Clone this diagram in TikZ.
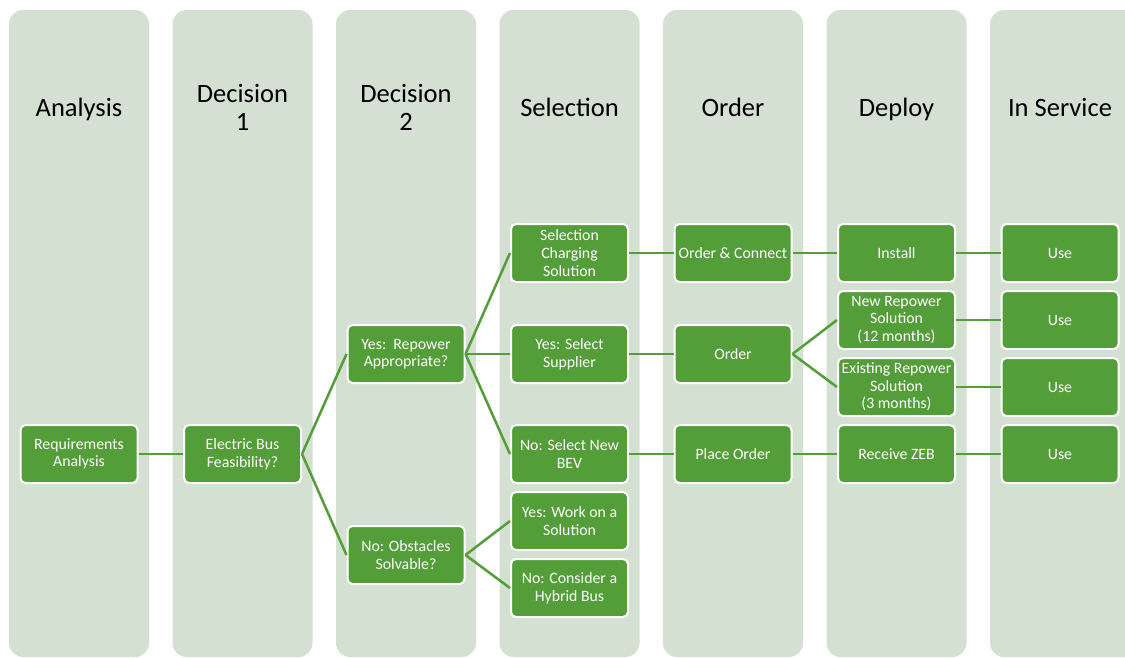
\documentclass[tikz,border=0pt]{standalone}
\usepackage{fontspec}
\setmainfont{Carlito}
\definecolor{colbg}{HTML}{D3E0D2}
\definecolor{boxgreen}{HTML}{549E39}
\begin{document}
\begin{tikzpicture}[x=1pt,y=-1pt,
  col/.style={fill=colbg, rounded corners=14pt},
  head/.style={font=\fontsize{26.5}{28}\selectfont, text=black, align=center, anchor=base, inner sep=0pt},
  box/.style={rectangle, rounded corners=5pt, fill=boxgreen, draw=white, line width=2pt,
    minimum width=117pt, minimum height=58pt, inner sep=1pt, text=white, align=center,
    font=\fontsize{15.8}{17.6}\selectfont},
  link/.style={draw=boxgreen, line width=2.5pt}]
\useasboundingbox (0,0) rectangle (1125,657);
\clip (0,0) rectangle (1125,657);
% columns
\foreach \x in {9,172.5,336,499.5,663,826.5} {
  \fill[col] (\x,10) rectangle (\x+140,657);
}
\fill[col] (990,10) rectangle (1160,657);
% headers
\node[head] (h1) at (79,116) {Analysis};
\node[head] (h2) at (242.5,130) {Decision\\1};
\node[head] (h3) at (406,130) {Decision\\2};
\node[head] (h4) at (569.5,116) {Selection};
\node[head] (h5) at (733,116) {Order};
\node[head] (h6) at (896.5,116) {Deploy};
\node[head] (h7) at (1060,116) {In Service};
% boxes
\node[box] (req) at (79,454) {Requirements\\Analysis};
\node[box] (ebf) at (242.5,454) {Electric Bus\\Feasibility?};
\node[box] (yrep) at (406,354) {Yes:\ \ Repower\\Appropriate?};
\node[box] (nobs) at (406,555) {No: Obstacles\\Solvable?};
\node[box] (selch) at (569.5,253) {Selection\\Charging\\Solution};
\node[box] (ysup) at (569.5,354) {Yes: Select\\Supplier};
\node[box] (nbev) at (569.5,454) {No: Select New\\BEV};
\node[box] (ywork) at (569.5,521) {Yes: Work on a\\Solution};
\node[box] (nhyb) at (569.5,588) {No: Consider a\\Hybrid Bus};
\node[box] (oc) at (733,253) {Order \& Connect};
\node[box] (ord) at (733,354) {Order};
\node[box] (po) at (733,454) {Place Order};
\node[box] (inst) at (896.5,253) {Install};
\node[box] (newr) at (896.5,320) {New Repower\\Solution\\(12 months)};
\node[box] (exr) at (896.5,387) {Existing Repower\\Solution\\(3 months)};
\node[box] (rzeb) at (896.5,454) {Receive ZEB};
\node[box] (use1) at (1060,253) {Use};
\node[box] (use2) at (1060,320) {Use};
\node[box] (use3) at (1060,387) {Use};
\node[box] (use4) at (1060,454) {Use};
% connectors
\foreach \a/\b in {req/ebf, ebf/yrep, ebf/nobs, yrep/selch, yrep/ysup, yrep/nbev,
  nobs/ywork, nobs/nhyb, selch/oc, ysup/ord, nbev/po, oc/inst, ord/newr, ord/exr,
  po/rzeb, inst/use1, newr/use2, exr/use3, rzeb/use4} {
  \draw[link] (\a.east) -- (\b.west);
}
\end{tikzpicture}
\end{document}
